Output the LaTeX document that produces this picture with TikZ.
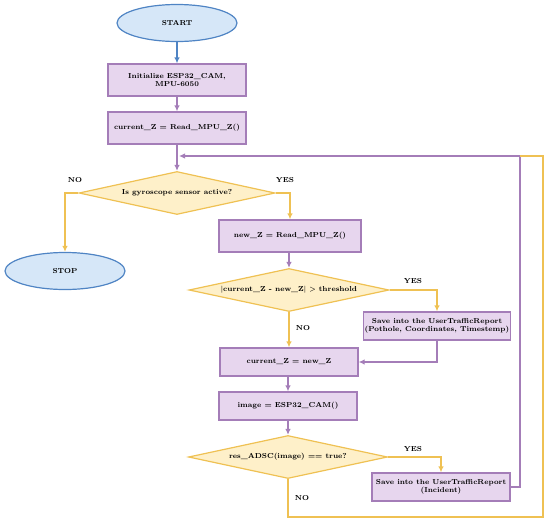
\documentclass[tikz,border=0pt]{standalone}
\usepackage{tikz}
\usetikzlibrary{arrows.meta,shapes.geometric}

\definecolor{termline}{HTML}{4F84C4}
\definecolor{termfill}{HTML}{D6E7F8}
\definecolor{procline}{HTML}{A47DB8}
\definecolor{procfill}{HTML}{E7D6EE}
\definecolor{testline}{HTML}{EFC153}
\definecolor{testfill}{HTML}{FEF0C9}

\begin{document}
\begin{tikzpicture}[x=1pt,y=-1pt,
    every node/.style={font=\fontsize{7.2}{8.6}\selectfont\bfseries},
    term/.style={ellipse,draw=termline,fill=termfill,line width=1.2pt,minimum width=120pt,minimum height=37pt,inner sep=0pt},
    proc/.style={rectangle,draw=procline,fill=procfill,line width=1.2pt,minimum height=28pt,inner sep=1pt,align=center},
    test/.style={diamond,draw=testline,fill=testfill,line width=1.2pt,aspect=4.6,inner sep=0pt,minimum height=43pt},
    tline/.style={draw=termline,line width=1.2pt,-{Latex[length=6pt,width=5.5pt]}},
    pline/.style={draw=procline,line width=1.2pt,-{Latex[length=6pt,width=5.5pt]}},
    yline/.style={draw=testline,line width=1.2pt,-{Latex[length=6pt,width=5.5pt]}},
    answer/.style={inner sep=0pt}
  ]
    \useasboundingbox (0,0) rectangle (550,523);

    % start and initialisation
    \node[term] (start) at (177,23) {START};
    \node[proc,minimum width=138pt,minimum height=32pt] (init) at (177,80) {Initialize ESP32\_CAM,\\MPU-6050};
    \node[proc,minimum width=138pt,minimum height=32pt] (readcur) at (177,128) {current\_Z = Read\_MPU\_Z()};
    \draw[tline] (start) to (init);
    \draw[pline] (init) to (readcur);

    % gyroscope check
    \node[test,minimum width=196pt] (gyro) at (177,193) {Is gyroscope sensor active?};
    \coordinate (merge) at (177,156);
    \draw[pline] (readcur) to (gyro);

    % stop branch
    \node[term] (stop) at (65,271) {STOP};
    \node[answer] (gyrono) at (75,180) {NO};
    \draw[yline] (gyro.west) -| (stop.north);

    % read new value
    \node[answer] (gyroyes) at (285,180) {YES};
    \node[proc,minimum width=142pt,minimum height=32pt] (readnew) at (290,236) {new\_Z = Read\_MPU\_Z()};
    \draw[yline] (gyro.east) -| (readnew.north);

    % threshold check
    \node[test,minimum width=200pt] (thres) at (289,290) {|current\_Z - new\_Z| > threshold};
    \draw[pline] (readnew.south -| thres.north) to (thres.north);

    % pothole report
    \node[answer] (thresyes) at (413,281) {YES};
    \node[proc,minimum width=146pt] (pothole) at (437,326) {Save into the UserTrafficReport\\(Pothole, Coordinates, Timestemp)};
    \draw[yline] (thres.east) -| (pothole.north);

    % update value
    \node[answer] (thresno) at (303,328) {NO};
    \node[proc,minimum width=138pt] (update) at (289,362) {current\_Z = new\_Z};
    \draw[yline] (thres.south) to (update.north);
    \draw[pline] (pothole.south) |- (update.east);

    % camera
    \node[proc,minimum width=138pt] (camera) at (288,406) {image = ESP32\_CAM()};
    \draw[pline] (update.south -| camera.north) to (camera.north);

    % incident check
    \node[test,minimum width=199pt] (adsc) at (288,457) {res\_ADSC(image) == true?};
    \draw[pline] (camera) to (adsc);

    % incident report
    \node[answer] (adscyes) at (413,449) {YES};
    \node[proc,minimum width=138pt] (incident) at (441,487) {Save into the UserTrafficReport\\(Incident)};
    \draw[yline] (adsc.east) -| (incident.north);

    % loops back
    \coordinate (ploop) at (520,156);
    \coordinate (ycorner) at (543,517);
    \node[answer] (adscno) at (302,498) {NO};
    \draw[pline,shorten >=-1pt] (incident.east) -| (ploop) -- ([xshift=3pt]merge);
    \draw[draw=testline,line width=1.2pt] (adsc.south) |- (ycorner) |- (ploop);

\end{tikzpicture}
\end{document}
